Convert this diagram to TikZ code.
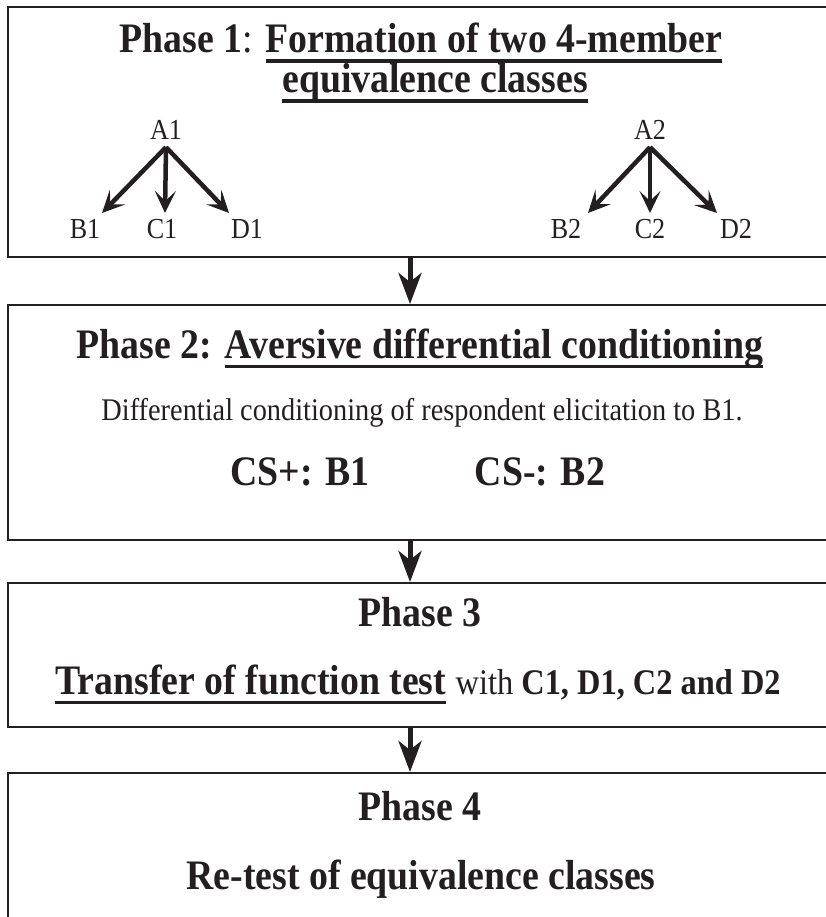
\documentclass[tikz,border=0pt]{standalone}
\usepackage{fontspec}
\setmainfont{Liberation Serif}[FakeStretch=0.9]
\usetikzlibrary{arrows.meta,calc}
\definecolor{ink}{RGB}{35,31,32}
\newsavebox{\ulbox}
\newcommand{\tul}[1]{\sbox{\ulbox}{#1}\rlap{\rule[-10pt]{\wd\ulbox}{3.5pt}}\usebox{\ulbox}}
\begin{document}
\begin{tikzpicture}[x=1pt,y=-1pt,
  box/.style={draw=ink, line width=2.2pt, rectangle, anchor=north west, inner sep=0pt},
  ttl/.style={font=\fontsize{42}{46}\selectfont\bfseries, text=ink, inner sep=0pt, anchor=base},
  txt/.style={font=\fontsize{31.5}{34}\selectfont, text=ink, inner sep=0pt, anchor=base},
  lbl/.style={font=\fontsize{29}{32}\selectfont, text=ink, inner sep=0pt, anchor=base},
  flow/.style={draw=ink, line width=5pt, -{Stealth[length=31pt,width=23pt,inset=9pt]}},
  rel/.style={draw=ink, line width=4.5pt, -{Stealth[length=22pt,width=21pt,inset=10pt]}}]
\useasboundingbox (0,0) rectangle (826,917);
% boxes
\node[box, minimum width=860pt, minimum height=250pt] (p1) at (7,6) {};
\node[box, minimum width=860pt, minimum height=235pt] (p2) at (7,304) {};
\node[box, minimum width=860pt, minimum height=144pt] (p3) at (7,582) {};
\node[box, minimum width=860pt, minimum height=200pt] (p4) at (7,772) {};
% connectors between phases
\coordinate (ax) at (410,0);
\draw[flow] (p1.south -| ax) -- (p2.north -| ax);
\draw[flow] (p2.south -| ax) -- (p3.north -| ax);
\draw[flow] (p3.south -| ax) -- (p4.north -| ax);
% phase 1
\node[ttl] (t1a) at (421,53) {Phase 1\textmd{:} \tul{Formation of two 4-member}};
\node[ttl] (t1b) at (435,93) {\tul{equivalence classes}};
\node[lbl] (A1) at (166,140) {A1};
\node[lbl] (B1) at (85,239) {B1};
\node[lbl] (C1) at (162,239) {C1};
\node[lbl] (D1) at (247,239) {D1};
\node[lbl] (A2) at (650,140) {A2};
\node[lbl] (B2) at (566,239) {B2};
\node[lbl] (C2) at (650,239) {C2};
\node[lbl] (D2) at (736,239) {D2};
\coordinate (b1t) at (102,213);
\coordinate (c1t) at (165,213);
\coordinate (d1t) at (229,213);
\coordinate (b2t) at (588,213);
\coordinate (c2t) at (650,213);
\coordinate (d2t) at (717,213);
\draw[rel] ($(A1.south)+(0,7)$) -- (b1t);
\draw[rel] ($(A1.south)+(0,7)$) -- (c1t);
\draw[rel] ($(A1.south)+(0,7)$) -- (d1t);
\draw[rel] ($(A2.south)+(0,7)$) -- (b2t);
\draw[rel] ($(A2.south)+(0,7)$) -- (c2t);
\draw[rel] ($(A2.south)+(0,7)$) -- (d2t);
% phase 2
\node[ttl] (t2) at (420,358) {Phase 2: \tul{Aversive differential conditioning}};
\node[txt] (t2b) at (422,420) {Differential conditioning of respondent elicitation to B1.};
\node[ttl] (csp) at (300,485) {CS+: B1};
\node[ttl] (csm) at (540,485) {CS-: B2};
% phase 3
\node[ttl] (t3) at (420,626) {Phase 3};
\node[ttl] (t3b) at (418,694) {\tul{Transfer of function test} {\fontsize{36}{40}\selectfont\textmd{with} C1, D1, C2 and D2}};
% phase 4
\node[ttl] (t4) at (420,820) {Phase 4};
\node[ttl] (t4b) at (421,889) {Re-test of equivalence classes};
\end{tikzpicture}
\end{document}
